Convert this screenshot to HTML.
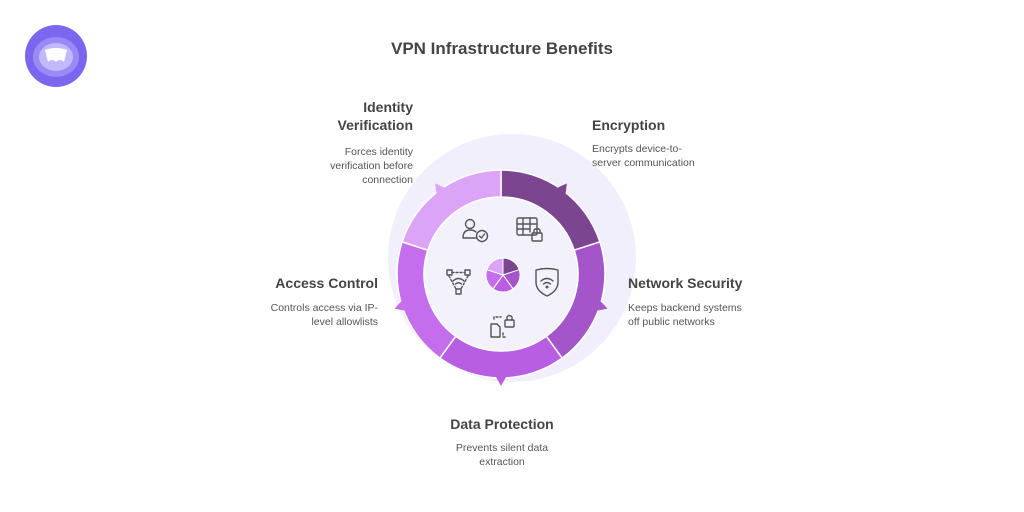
<!DOCTYPE html>
<html><head><meta charset="utf-8"><style>
body{margin:0;background:#fff;}
svg{display:block;font-family:"Liberation Sans",sans-serif;}
.h{font-weight:bold;font-size:14px;fill:#444;}
.d{font-size:10.5px;fill:#555;}
.ic{fill:none;stroke:#555;stroke-width:1.4;stroke-linecap:round;stroke-linejoin:round;}
</style></head><body>
<svg width="1024" height="512" viewBox="0 0 1024 512">
<circle cx="56" cy="56" r="31" fill="#7b66f0"/>
<ellipse cx="56" cy="57" rx="23" ry="20" fill="#9a8af5"/>
<ellipse cx="56" cy="57" rx="17" ry="14" fill="#c2b9fa"/>
<path d="M45 50 Q56 46 67 50 L64 62 Q60 58 56 62 Q52 58 48 62 Z" fill="#fff"/>
<text x="502" y="54" text-anchor="middle" style="font-weight:bold;font-size:17px;fill:#444">VPN Infrastructure Benefits</text>
<circle cx="512" cy="258" r="124" fill="#f1effb"/>
<circle cx="501" cy="274" r="78" fill="#f3f1fc"/>
<g stroke="#fff" stroke-width="1.5">
<path d="M501 170 A104 104 0 0 1 599.9 241.9 L574.2 250.2 A77 77 0 0 0 501 197 Z" fill="#7b4590"/>
<path d="M599.9 241.9 A104 104 0 0 1 562.1 358.1 L546.3 336.3 A77 77 0 0 0 574.2 250.2 Z" fill="#a455c9"/>
<path d="M562.1 358.1 A104 104 0 0 1 439.9 358.1 L455.7 336.3 A77 77 0 0 0 546.3 336.3 Z" fill="#b85ee2"/>
<path d="M439.9 358.1 A104 104 0 0 1 402.1 241.9 L427.8 250.2 A77 77 0 0 0 455.7 336.3 Z" fill="#c46eee"/>
<path d="M402.1 241.9 A104 104 0 0 1 501 170 L501 197 A77 77 0 0 0 427.8 250.2 Z" fill="#dca4f6"/>
</g>
<g>
<path d="M496 171 L501 162 L506 171 Z" fill="#7b4590" transform="rotate(36 501 274)"/>
<path d="M496 171 L501 162 L506 171 Z" fill="#a455c9" transform="rotate(108 501 274)"/>
<path d="M496 171 L501 162 L506 171 Z" fill="#b85ee2" transform="rotate(180 501 274)"/>
<path d="M496 171 L501 162 L506 171 Z" fill="#c46eee" transform="rotate(252 501 274)"/>
<path d="M496 171 L501 162 L506 171 Z" fill="#dca4f6" transform="rotate(324 501 274)"/>
</g>
<g stroke="#fff" stroke-width="1" transform="translate(503 275)">
<path d="M0 0 L0 -17 A17 17 0 0 1 16.2 -5.3 Z" fill="#7b4590"/>
<path d="M0 0 L16.2 -5.3 A17 17 0 0 1 10 13.8 Z" fill="#a455c9"/>
<path d="M0 0 L10 13.8 A17 17 0 0 1 -10 13.8 Z" fill="#b85ee2"/>
<path d="M0 0 L-10 13.8 A17 17 0 0 1 -16.2 -5.3 Z" fill="#c46eee"/>
<path d="M0 0 L-16.2 -5.3 A17 17 0 0 1 0 -17 Z" fill="#dca4f6"/>
</g>
<g class="ic">
<circle cx="470" cy="224" r="4.5"/><path d="M463 238 Q463 230 470 230 Q474 230 476 232 M463 238 H476"/>
<circle cx="482" cy="236" r="5.5"/><path d="M479.5 236 L481.5 238 L484.5 234"/>
<rect x="517" y="218" width="20" height="17" rx="1.5"/><path d="M517 224 H537 M517 229 H530 M523 218 V235 M530 218 V232"/>
<rect x="532" y="233" width="10" height="8" rx="1"/><path d="M534 233 V230 Q537 227 540 230 V233"/>
<path d="M536 270 Q547 267 558 270 V282 Q558 291 547 296 Q536 291 536 282 Z"/>
<path d="M541 281 Q547 276 553 281 M543.5 284 Q547 281 550.5 284"/><circle cx="547" cy="287" r="0.8"/>
<rect x="447" y="270" width="5" height="5"/><rect x="465" y="270" width="5" height="5"/><rect x="456" y="289" width="5" height="5"/>
<path d="M452 272.5 H465" stroke-dasharray="2 2"/><path d="M449 276 L456 289 M468 276 L461 289" stroke-dasharray="2 2"/>
<path d="M453 281 Q458.5 276 464 281 M455.5 284 Q458.5 281.5 461.5 284"/>
<path d="M491 324 H497 L500 327 V337 H491 Z"/>
<path d="M496 317 H501 M503 333 V337 H506 M494 317 V321" stroke-dasharray="2 2"/>
<rect x="505" y="320" width="9" height="7" rx="1"/><path d="M507 320 V317 Q509.5 314 512 317 V320"/>
</g>
<text class="h" text-anchor="end" x="413" y="112">Identity</text>
<text class="h" text-anchor="end" x="413" y="130">Verification</text>
<text class="d" text-anchor="end" x="413" y="155">Forces identity</text>
<text class="d" text-anchor="end" x="413" y="169">verification before</text>
<text class="d" text-anchor="end" x="413" y="183">connection</text>
<text class="h" x="592" y="130">Encryption</text>
<text class="d" x="592" y="152">Encrypts device-to-</text>
<text class="d" x="592" y="166">server communication</text>
<text class="h" x="628" y="288">Network Security</text>
<text class="d" x="628" y="311">Keeps backend systems</text>
<text class="d" x="628" y="325">off public networks</text>
<text class="h" text-anchor="end" x="378" y="288">Access Control</text>
<text class="d" text-anchor="end" x="378" y="311">Controls access via IP-</text>
<text class="d" text-anchor="end" x="378" y="325">level allowlists</text>
<text class="h" text-anchor="middle" x="502" y="429">Data Protection</text>
<text class="d" text-anchor="middle" x="502" y="451">Prevents silent data</text>
<text class="d" text-anchor="middle" x="502" y="465">extraction</text>
</svg>
</body></html>
